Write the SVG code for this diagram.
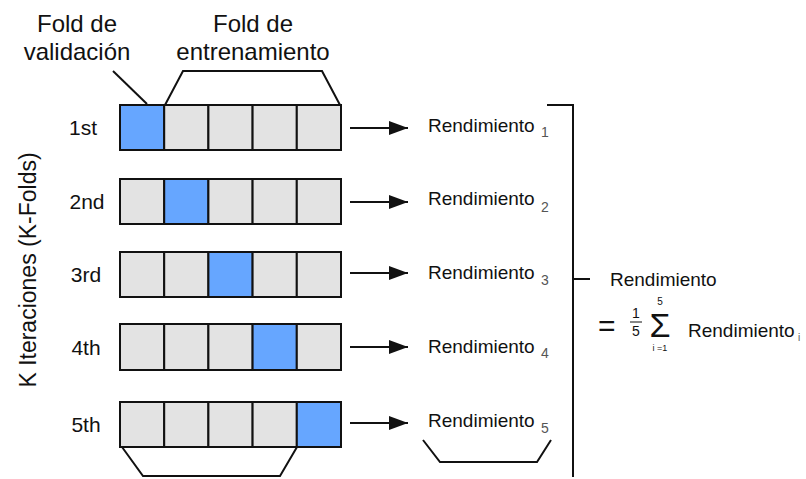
<svg xmlns="http://www.w3.org/2000/svg" width="806" height="479" viewBox="0 0 806 479">
<defs>
<style>
text{font-family:"Liberation Sans",Arial,sans-serif;fill:#111}
.hdr{font-size:24px;text-anchor:middle}
.row{font-size:21px;text-anchor:middle}
.perf{font-size:19px}
.sub{font-size:14px;fill:#555}
.cell{fill:#e3e3e3;stroke:#111;stroke-width:2}
.val{fill:#66a6ff;stroke:#111;stroke-width:2}
.ln{fill:none;stroke:#111;stroke-width:2}
.arr{stroke:#111;stroke-width:2;marker-end:url(#ah)}
</style>
<marker id="ah" markerWidth="20" markerHeight="14" refX="19" refY="7" orient="auto" markerUnits="userSpaceOnUse">
<path d="M0,0 L19,7 L0,14 Z" fill="#111"/>
</marker>
</defs>
<rect width="806" height="479" fill="#fff"/>

<g id="labels">
<text class="hdr" x="77" y="32">Fold de</text>
<text class="hdr" x="77" y="60">validación</text>
<text class="hdr" x="253" y="32">Fold de</text>
<text class="hdr" x="253" y="60">entrenamiento</text>
<text transform="translate(36,270) rotate(-90)" style="font-size:23px;text-anchor:middle">K Iteraciones (K-Folds)</text>
</g>

<g id="iter1">
<text class="row" x="83" y="135">1st</text>
<rect class="val" x="120" y="105" width="44.2" height="45"/>
<rect class="cell" x="164.2" y="105" width="44.2" height="45"/>
<rect class="cell" x="208.4" y="105" width="44.2" height="45"/>
<rect class="cell" x="252.6" y="105" width="44.2" height="45"/>
<rect class="cell" x="296.8" y="105" width="44.2" height="45"/>
</g>
<g id="iter2">
<text class="row" x="87" y="209">2nd</text>
<rect class="cell" x="120" y="179" width="44.2" height="45"/>
<rect class="val" x="164.2" y="179" width="44.2" height="45"/>
<rect class="cell" x="208.4" y="179" width="44.2" height="45"/>
<rect class="cell" x="252.6" y="179" width="44.2" height="45"/>
<rect class="cell" x="296.8" y="179" width="44.2" height="45"/>
</g>
<g id="iter3">
<text class="row" x="86" y="282">3rd</text>
<rect class="cell" x="120" y="252" width="44.2" height="45"/>
<rect class="cell" x="164.2" y="252" width="44.2" height="45"/>
<rect class="val" x="208.4" y="252" width="44.2" height="45"/>
<rect class="cell" x="252.6" y="252" width="44.2" height="45"/>
<rect class="cell" x="296.8" y="252" width="44.2" height="45"/>
</g>
<g id="iter4">
<text class="row" x="86" y="355">4th</text>
<rect class="cell" x="120" y="324" width="44.2" height="46"/>
<rect class="cell" x="164.2" y="324" width="44.2" height="46"/>
<rect class="cell" x="208.4" y="324" width="44.2" height="46"/>
<rect class="val" x="252.6" y="324" width="44.2" height="46"/>
<rect class="cell" x="296.8" y="324" width="44.2" height="46"/>
</g>
<g id="iter5">
<text class="row" x="86" y="432">5th</text>
<rect class="cell" x="120" y="402" width="44.2" height="45"/>
<rect class="cell" x="164.2" y="402" width="44.2" height="45"/>
<rect class="cell" x="208.4" y="402" width="44.2" height="45"/>
<rect class="cell" x="252.6" y="402" width="44.2" height="45"/>
<rect class="val" x="296.8" y="402" width="44.2" height="45"/>
</g>

<g id="perf1"><text class="perf" x="428" y="132">Rendimiento</text><text class="sub" x="541" y="137">1</text></g>
<g id="perf2"><text class="perf" x="428" y="205">Rendimiento</text><text class="sub" x="541" y="212">2</text></g>
<g id="perf3"><text class="perf" x="428" y="279">Rendimiento</text><text class="sub" x="541" y="285">3</text></g>
<g id="perf4"><text class="perf" x="428" y="353">Rendimiento</text><text class="sub" x="541" y="358">4</text></g>
<g id="perf5"><text class="perf" x="428" y="427">Rendimiento</text><text class="sub" x="541" y="433">5</text></g>

<g id="result">
<text class="perf" x="610" y="286">Rendimiento</text>
<text style="font-size:30px" x="598" y="336">=</text>
<text style="font-size:14px;text-anchor:middle" x="636" y="318">1</text>
<line x1="630" y1="322" x2="642" y2="322" stroke="#111" stroke-width="1"/>
<text style="font-size:14px;text-anchor:middle" x="636" y="336">5</text>
<text style="font-size:10px;text-anchor:middle" x="660" y="305">5</text>
<text style="font-size:34px;text-anchor:middle" x="660" y="337">Σ</text>
<text style="font-size:9px;text-anchor:middle" x="660" y="351">i =1</text>
<text class="perf" x="688" y="337">Rendimiento</text>
<text style="font-size:10px;fill:#555" x="798" y="341">i</text>
</g>

<g id="connectors">
<path class="ln" d="M113,71 L147,104"/>
<path class="ln" d="M165,105 L183,71 L322,71 L340,105"/>
<path class="ln" d="M122,447 L143,476 L280,476 L297,447"/>
<path class="ln" d="M423,440 L440,462 L537,462 L551,440"/>
<path class="ln" d="M547,105 L573,105 L573,477 M573,279 L590,279"/>
<line class="arr" x1="350" y1="128" x2="408" y2="128"/>
<line class="arr" x1="350" y1="202" x2="408" y2="202"/>
<line class="arr" x1="350" y1="273" x2="408" y2="273"/>
<line class="arr" x1="350" y1="347" x2="408" y2="347"/>
<line class="arr" x1="350" y1="423" x2="408" y2="423"/>
</g>
</svg>
